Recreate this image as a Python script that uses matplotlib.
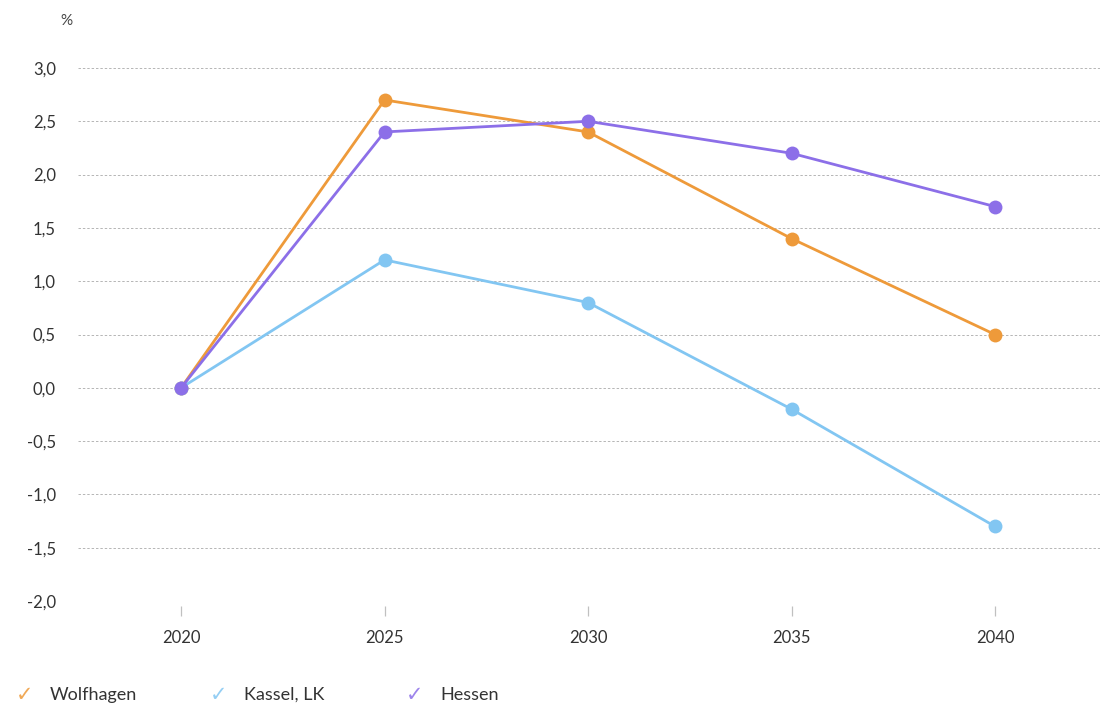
import matplotlib
matplotlib.use('Agg')
import matplotlib.pyplot as plt
import numpy as np

plt.rcParams['font.family'] = ['Lato', 'DejaVu Sans']

years = [2020, 2025, 2030, 2035, 2040]
wolfhagen = [0.0, 2.7, 2.4, 1.4, 0.5]
kassel = [0.0, 1.2, 0.8, -0.2, -1.3]
hessen = [0.0, 2.4, 2.5, 2.2, 1.7]

series = [
    ('Wolfhagen', wolfhagen, '#EE9A3A'),
    ('Kassel, LK', kassel, '#82C6F2'),
    ('Hessen', hessen, '#8C6FE8'),
]
yticks = np.arange(-2.0, 3.01, 0.5)

fig = plt.figure(figsize=(11, 7.08), dpi=100)
ax = fig.add_axes([0.071, 0.151, 0.929, 0.753])

for name, vals, col in series:
    ax.plot(years, vals, color=col, lw=2.0, marker='o', markersize=10,
            markeredgewidth=0, clip_on=False, zorder=3)

ax.set_xlim(2017.47, 2042.58)
ax.set_ylim(-2.0, 3.0)
ax.set_yticks(yticks)
ax.set_yticklabels([f'{v:.1f}'.replace('.', ',') for v in yticks])
ax.set_xticks(years)
ax.set_xticklabels([str(y) for y in years])

for v in yticks:
    ax.axhline(v, color='#b5b5b5', lw=0.7, ls=(0, (2.5, 2)), zorder=1)

for s in ax.spines.values():
    s.set_visible(False)
ax.tick_params(axis='y', length=0, pad=16, labelsize=12, labelcolor='#333333')
ax.tick_params(axis='x', length=0, pad=21, labelsize=12, labelcolor='#333333')

# short tick marks a few pixels below the lowest gridline
ax.vlines(years, -2.045, -2.14, color='#c0c0c0', lw=0.9, clip_on=False)

fig.text(0.055, 0.971, '%', fontsize=11, color='#444444', ha='left', va='center')

# legend with check marks
leg_x = [0.014, 0.191, 0.369]
for (name, vals, col), x in zip(series, leg_x):
    fig.text(x, 0.019, '\u2713', fontsize=15, color=col, alpha=0.85,
             ha='left', va='center', family=['DejaVu Sans'])
    fig.text(x + 0.031, 0.019, name, fontsize=13, color='#333333',
             ha='left', va='center')

fig.savefig('out.png', dpi=100)
